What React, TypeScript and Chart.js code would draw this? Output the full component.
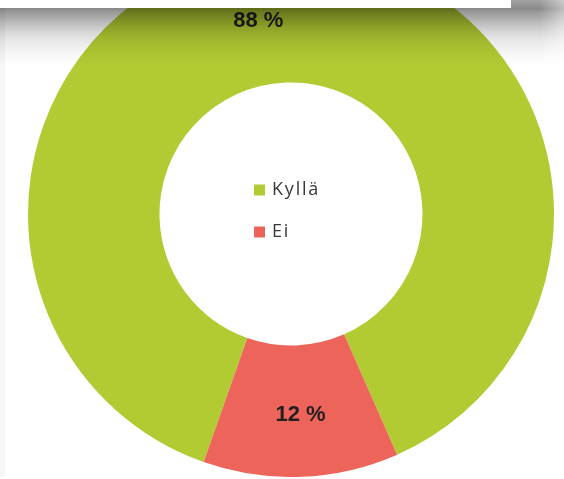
import React, { useEffect, useRef } from 'react';
import { Chart, registerables } from 'chart.js';

Chart.register(...registerables);

const categories: string[] = ['Kyllä', 'Ei'];
const values: number[] = [88, 12];
const colors: string[] = ['#b2cb33', '#ec645a'];
const valueLabels: string[] = ['88 %', '12 %'];

// canvas starts 49px above the page top
const TOP = 49;

export default function App() {
  const ref = useRef<HTMLCanvasElement | null>(null);

  useEffect(() => {
    if (!ref.current) return;

    const decor = {
      id: 'decor',
      beforeDraw(chart: any) {
        const ctx = chart.ctx;
        ctx.save();
        ctx.fillStyle = '#f6f6f6';
        ctx.fillRect(0, 0, 5, chart.height);
        ctx.restore();
      },
      afterDatasetsDraw(chart: any) {
        const ctx = chart.ctx;
        const meta = chart.getDatasetMeta(0);
        meta.data.forEach((arc: any, i: number) => {
          const p = arc.tooltipPosition();
          ctx.save();
          ctx.font = 'bold 22px "Liberation Sans", Arial, sans-serif';
          ctx.fillStyle = '#231f20';
          ctx.textAlign = i === 0 ? 'right' : 'center';
          ctx.textBaseline = 'middle';
          ctx.fillText(valueLabels[i], p.x + (i === 0 ? 0 : 2), p.y + 4);
          ctx.restore();
        });
        // legend inside the hole
        const a0 = meta.data[0];
        const cx = a0.x;
        const cy = a0.y;
        const rowOffsets = [-24, 18];
        chart.data.labels.forEach((lab: string, i: number) => {
          const y = cy + rowOffsets[i];
          ctx.save();
          ctx.fillStyle = chart.data.datasets[0].backgroundColor[i];
          ctx.fillRect(cx - 37, y - 5.5, 11, 11);
          ctx.font = '18px "Open Sans", sans-serif';
          (ctx as any).letterSpacing = '1.8px';
          ctx.fillStyle = '#383838';
          ctx.textAlign = 'left';
          ctx.textBaseline = 'middle';
          ctx.fillText(lab, cx - 19, y);
          ctx.restore();
        });
      },
      afterDraw(chart: any) {
        const ctx = chart.ctx;
        const w = chart.width;
        const bandH = 66;
        const off = document.createElement('canvas');
        off.width = w;
        off.height = bandH;
        const o = off.getContext('2d')!;
        const g = o.createLinearGradient(0, 0, 0, bandH);
        const stops: [number, number][] = [
          [0, 0.36], [9, 0.46], [12, 0.4], [17, 0.34], [22, 0.27], [27, 0.21],
          [32, 0.16], [38, 0.11], [44, 0.075], [50, 0.05], [57, 0.025], [66, 0],
        ];
        stops.forEach(([y, a]) => g.addColorStop(y / bandH, `rgba(0,0,0,${a})`));
        o.fillStyle = g;
        o.fillRect(0, 0, w, bandH);
        o.globalCompositeOperation = 'destination-in';
        const h = o.createLinearGradient(0, 0, w, 0);
        h.addColorStop(0, 'rgba(0,0,0,1)');
        h.addColorStop(540 / w, 'rgba(0,0,0,1)');
        h.addColorStop(1, 'rgba(0,0,0,0.55)');
        o.fillStyle = h;
        o.fillRect(0, 0, w, bandH);
        ctx.save();
        ctx.drawImage(off, 0, TOP);
        ctx.fillStyle = '#ffffff';
        ctx.fillRect(0, 0, 511, TOP + 8);
        ctx.restore();
      },
    };

    const chart = new Chart(ref.current, {
      type: 'doughnut',
      data: {
        labels: categories,
        datasets: [
          {
            data: values,
            backgroundColor: colors,
            borderWidth: 0,
            hoverOffset: 0,
            offset: 0,
          },
        ],
      },
      options: {
        responsive: true,
        maintainAspectRatio: false,
        animation: false,
        cutout: '50%',
        rotation: -160.6,
        layout: { padding: { left: 18, right: 0, top: 0, bottom: 0 } },
        plugins: {
          legend: { display: false },
          tooltip: { enabled: false },
        },
        events: [],
      },
      plugins: [decor],
    });

    return () => chart.destroy();
  }, []);

  return (
    <div
      style={{
        position: 'fixed',
        left: 0,
        top: -TOP,
        width: 564,
        height: 526,
        background: '#ffffff',
      }}
    >
      <canvas ref={ref} />
    </div>
  );
}
